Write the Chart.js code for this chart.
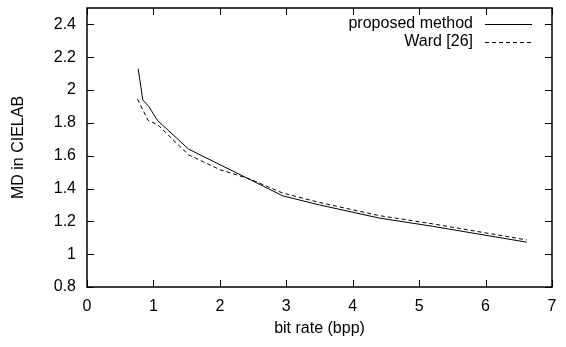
<!DOCTYPE html>
<html>
<head>
<meta charset="utf-8">
<script src="https://cdn.jsdelivr.net/npm/chart.js@4.4.1/dist/chart.umd.min.js"></script>
<style>
  html, body { margin: 0; padding: 0; background: #fff; }
  #wrap { width: 566px; height: 347px; }
</style>
</head>
<body>
<div id="wrap"><canvas id="myChart" width="566" height="347"></canvas></div>
<script>
// values
var proposedX = [0.77, 0.84, 0.93, 1.06, 1.53, 2.95, 3.5, 4.4, 5.2, 6.62];
var proposedY = [2.13, 1.94, 1.90, 1.815, 1.64, 1.355, 1.30, 1.22, 1.17, 1.073];
var wardX = [0.76, 0.92, 1.06, 1.53, 2.0, 2.45, 2.95, 3.5, 4.4, 5.2, 6.62];
var wardY = [1.945, 1.815, 1.79, 1.605, 1.515, 1.458, 1.372, 1.315, 1.235, 1.185, 1.087];
var labels = ['proposed method', 'Ward [26]'];

function toPoints(xs, ys) {
    var pts = [];
    for (var i = 0; i < xs.length; i++) pts.push({x: xs[i], y: ys[i]});
    return pts;
}

var FONT = '"Liberation Sans", Arial, Helvetica, sans-serif';
var FS = 16;

// gnuplot style frame with inward ticks and legend inside the plot
var framePlugin = {
    id: 'frame',
    afterDraw: function (chart) {
        var c = chart.ctx, a = chart.chartArea;
        var xs = chart.scales.x, ys = chart.scales.y;
        c.save();
        c.strokeStyle = '#000';
        c.lineWidth = 1;
        c.beginPath();
        xs.ticks.forEach(function (t) {
            var px = Math.round(xs.getPixelForValue(t.value)) + 0.5;
            c.moveTo(px, a.bottom); c.lineTo(px, a.bottom - 7);
            c.moveTo(px, a.top); c.lineTo(px, a.top + 7);
        });
        ys.ticks.forEach(function (t) {
            var py = Math.round(ys.getPixelForValue(t.value)) + 0.5;
            c.moveTo(a.left, py); c.lineTo(a.left + 7, py);
            c.moveTo(a.right, py); c.lineTo(a.right - 7, py);
        });
        c.stroke();
        c.lineWidth = 1.5;
        c.strokeRect(a.left, a.top, a.right - a.left, a.bottom - a.top);

        // legend
        c.font = FS + 'px ' + FONT;
        c.fillStyle = '#000';
        c.textAlign = 'right';
        c.textBaseline = 'middle';
        chart.data.datasets.forEach(function (ds, i) {
            var y = a.top + 16 + i * 18;
            c.fillText(ds.label, a.right - 79, y);
            c.lineWidth = 1;
            c.setLineDash(ds.borderDash || []);
            c.beginPath();
            c.moveTo(a.right - 67, y + 0.5);
            c.lineTo(a.right - 20, y + 0.5);
            c.stroke();
            c.setLineDash([]);
        });
        c.restore();
    }
};

function noPad(s) {
    s.paddingTop = 0; s.paddingBottom = 0; s.paddingLeft = 0; s.paddingRight = 0;
}

var ctx = document.getElementById('myChart').getContext('2d');
var myChart = new Chart(ctx, {
    type: 'scatter',
    data: {
        datasets: [{
            label: labels[0],
            data: toPoints(proposedX, proposedY),
            showLine: true,
            borderColor: '#000',
            borderWidth: 1,
            pointRadius: 0,
            tension: 0
        }, {
            label: labels[1],
            data: toPoints(wardX, wardY),
            showLine: true,
            borderColor: '#000',
            borderWidth: 1,
            borderDash: [4, 3],
            pointRadius: 0,
            tension: 0
        }]
    },
    options: {
        responsive: false,
        animation: false,
        layout: { padding: { top: 8, right: 14, left: 0, bottom: 0 } },
        plugins: { legend: { display: false }, tooltip: { enabled: false } },
        scales: {
            x: {
                type: 'linear',
                min: 0, max: 7,
                ticks: { stepSize: 1, color: '#000', padding: 10, font: { size: FS, family: FONT } },
                grid: { display: false, drawTicks: false },
                border: { display: false },
                title: { display: true, text: 'bit rate (bpp)', color: '#000', padding: { top: 4, bottom: 9 }, font: { size: FS, family: FONT } },
                afterFit: function (s) { s.height = 60; noPad(s); }
            },
            y: {
                min: 0.8, max: 2.5,
                ticks: {
                    stepSize: 0.2, includeBounds: false, color: '#000', padding: 11,
                    font: { size: FS, family: FONT },
                    callback: function (v) { return String(Number(v.toFixed(2))); }
                },
                grid: { display: false, drawTicks: false },
                border: { display: false },
                title: { display: true, text: 'MD in CIELAB', color: '#000', padding: { top: 9, bottom: 4 }, font: { size: FS, family: FONT } },
                afterBuildTicks: function (s) {
                    s.ticks = s.ticks.filter(function (t) { return t.value <= 2.4 + 1e-9; });
                },
                afterFit: function (s) { s.width = 87; noPad(s); }
            }
        }
    },
    plugins: [framePlugin]
});
</script>
</body>
</html>
